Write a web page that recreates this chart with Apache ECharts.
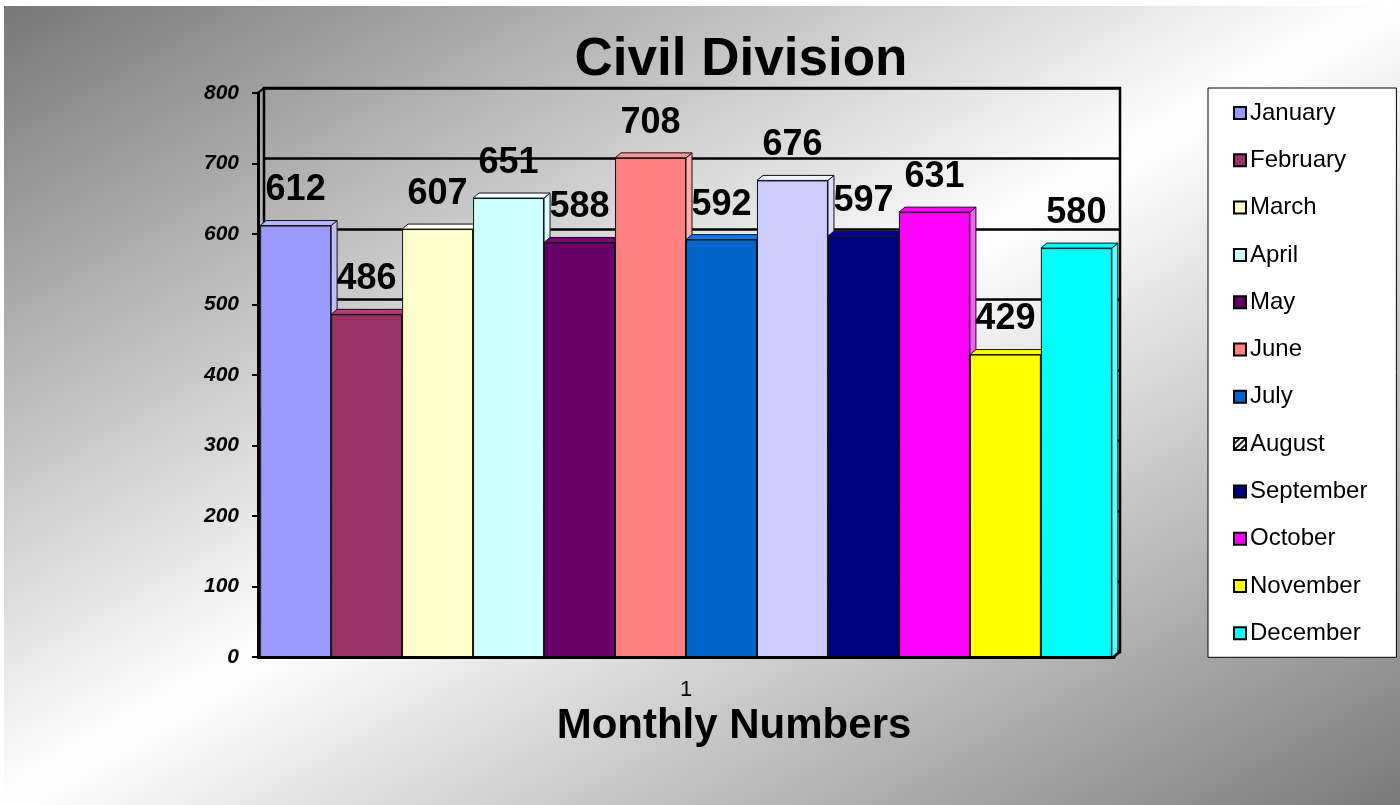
<!DOCTYPE html>
<html>
<head>
<meta charset="utf-8">
<script src="https://cdn.jsdelivr.net/npm/echarts@6/dist/echarts.min.js"></script>
<style>
html,body{margin:0;padding:0;}
#main{width:1400px;height:805px;}
</style>
</head>
<body>
<div id="main"></div>
<script>
// Civil Division - monthly numbers, one category, one bar per month
var categories = ['1'];
var months = ['January','February','March','April','May','June','July','August','September','October','November','December'];
var values = [612,486,607,651,588,708,592,676,597,631,429,580];
var monthColors = ['#9999FF','#993366','#FFFFCC','#CCFFFF','#660066','#FF8080','#0066CC','#CCCCFF','#000080','#FF00FF','#FFFF00','#00FFFF'];

var FONT = '"Liberation Sans", Arial, sans-serif';
var depthX = 6, depthY = -5;
var catGap = 0.005;

// hatch pattern for the August legend box
function makeHatch(){
    var c = document.createElement('canvas');
    c.width = 6; c.height = 6;
    var ctx = c.getContext('2d');
    ctx.fillStyle = '#fff';
    ctx.fillRect(0,0,6,6);
    ctx.strokeStyle = '#000';
    ctx.lineWidth = 1.6;
    ctx.beginPath();
    ctx.moveTo(0,6); ctx.lineTo(6,0);
    ctx.moveTo(-1,1); ctx.lineTo(1,-1);
    ctx.moveTo(5,7); ctx.lineTo(7,5);
    ctx.stroke();
    return c;
}

var series = [];
var legendData = [];
for(var i = 0;i<months.length;i++){
    series.push({
        type:'bar',
        name:months[i],
        xAxisIndex:0,
        yAxisIndex:0,
        data:[values[i]],
        barGap:'0%',
        barCategoryGap:(catGap*100)+'%',
        z:3,
        itemStyle:{color:monthColors[i],borderColor:'#111',borderWidth:1},
        label:{
            show:true,
            position:'top',
            distance:17,
            color:'#000',
            fontFamily:FONT,
            fontWeight:'bold',
            fontSize:36
        }
    });
    if(months[i]=='August'){
        legendData.push({name:months[i],itemStyle:{color:{image:makeHatch(),repeat:'repeat'}}});
    }else{
        legendData.push({name:months[i]});
    }
}

// top and side faces of the 3D bars, drawn under the front faces
var faceData = [];
for(var i = 0;i<values.length;i++){
    faceData.push([0, values[i], i]);
}
series.push({
    type:'custom',
    name:'faces',
    xAxisIndex:0,
    yAxisIndex:0,
    z:2,
    silent:true,
    data:faceData,
    renderItem:function(params, api){
        var idx = api.value(2);
        var top = api.coord([api.value(0), api.value(1)]);
        var base = api.coord([api.value(0), 0]);
        var band = api.size([1,0])[0];
        var total = band*(1-catGap);
        var bw = total/months.length;
        var x0 = top[0]-total/2+idx*bw;
        var x1 = x0+bw;
        var yT = top[1], yB = base[1];
        var col = monthColors[idx];
        return {
            type:'group',
            children:[
                {
                    type:'polygon',
                    shape:{points:[[x1,yT],[x1+depthX,yT+depthY],[x1+depthX,yB+depthY],[x1,yB]]},
                    style:{fill:echarts.color.lift(col,0.35),stroke:'#111',lineWidth:1}
                },
                {
                    type:'polygon',
                    shape:{points:[[x0,yT],[x0+depthX,yT+depthY],[x1+depthX,yT+depthY],[x1,yT]]},
                    style:{fill:echarts.color.lift(col,-0.2),stroke:'#111',lineWidth:1}
                }
            ]
        };
    }
});

var option = {
    animation:false,
    backgroundColor:new echarts.graphic.LinearGradient(352,-202,1048,1007,[
        {offset:0,color:'#767676'},
        {offset:0.5,color:'#ffffff'},
        {offset:1,color:'#7a7a7a'}
    ],true),
    textStyle:{fontFamily:FONT},
    title:{
        text:'Civil Division',
        left:736,
        textAlign:'center',
        top:29,
        textStyle:{fontFamily:FONT,fontWeight:'bold',fontSize:53,color:'#000'}
    },
    legend:{
        orient:'vertical',
        left:1208,
        top:88,
        padding:[13,29,12,25],
        backgroundColor:'#fff',
        borderColor:'#000',
        borderWidth:1,
        borderRadius:0,
        icon:'rect',
        itemWidth:12,
        itemHeight:12,
        itemGap:23.3,
        itemStyle:{borderColor:'#000',borderWidth:2},
        textStyle:{fontFamily:FONT,fontSize:24,color:'#000',padding:[0,0,0,-1]},
        data:legendData
    },
    graphic:[
        {type:'rect',shape:{x:0,y:0,width:1400,height:6},style:{fill:'#fff'},silent:true},
        {type:'rect',shape:{x:0,y:0,width:4,height:805},style:{fill:'#fff'},silent:true},
        {type:'line',shape:{x1:258,y1:93,x2:264,y2:88},style:{stroke:'#000',lineWidth:2},silent:true},
        {type:'line',shape:{x1:1114,y1:657,x2:1120,y2:652},style:{stroke:'#000',lineWidth:2},silent:true}
    ],
    grid:[
        {left:258,right:286,top:93,bottom:148},
        {left:264,right:280,top:88,bottom:153,show:true,borderColor:'#000',borderWidth:2.5,backgroundColor:'transparent'}
    ],
    xAxis:[
        {
            type:'category',
            gridIndex:0,
            data:categories,
            name:'Monthly Numbers',
            nameLocation:'middle',
            nameGap:46,
            nameTextStyle:{fontFamily:FONT,fontWeight:'bold',fontSize:42,color:'#000',padding:[0,0,0,96]},
            axisLine:{lineStyle:{color:'#000',width:3}},
            axisTick:{show:false},
            axisLabel:{color:'#000',fontSize:22,margin:22,fontFamily:FONT},
            z:5
        },
        {
            type:'category',
            gridIndex:1,
            data:categories,
            show:false
        }
    ],
    yAxis:[
        {
            type:'value',
            gridIndex:0,
            min:0,
            max:800,
            interval:100,
            axisLine:{show:true,lineStyle:{color:'#000',width:3}},
            axisTick:{show:true,length:6,lineStyle:{color:'#000',width:2}},
            axisLabel:{color:'#000',fontSize:21,fontWeight:'bold',fontStyle:'italic',margin:19,fontFamily:FONT},
            splitLine:{show:false},
            z:5
        },
        {
            type:'value',
            gridIndex:1,
            min:0,
            max:800,
            interval:100,
            axisLine:{show:false},
            axisTick:{show:false},
            axisLabel:{show:false},
            splitLine:{show:true,lineStyle:{color:'#000',width:2.5}}
        }
    ],
    series:series
};

var chart = echarts.init(document.getElementById('main'));
chart.setOption(option);
</script>
</body>
</html>
